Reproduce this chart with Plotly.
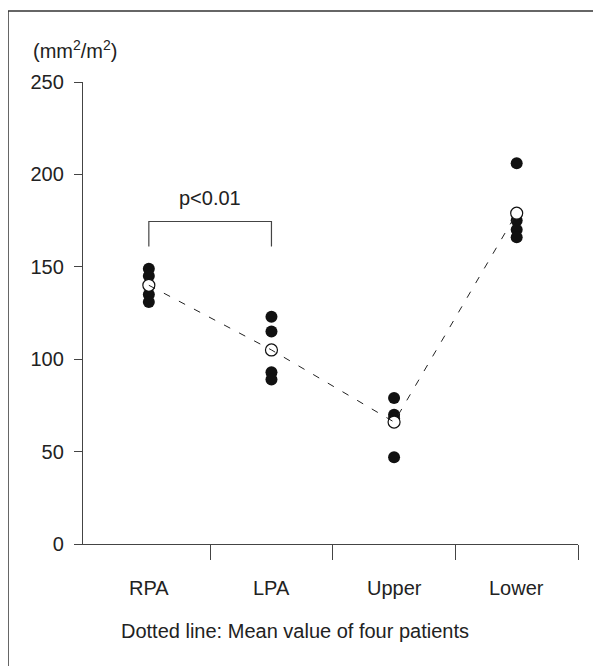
import plotly.graph_objects as go

categories = ["RPA", "LPA", "Upper", "Lower"]
patient_values = {
    "RPA": [149, 145, 135, 131],
    "LPA": [123, 115, 93, 89],
    "Upper": [79, 70, 68, 47],
    "Lower": [206, 175, 170, 166],
}
mean_values = [140, 105, 66, 179]
y_ticks = [0, 50, 100, 150, 200, 250]
caption = "Dotted line: Mean value of four patients"
unit_label = "(mm<sup>2</sup>/m<sup>2</sup>)"
sig_label = "p<0.01"

FONT = "Liberation Sans, Arial, sans-serif"
FS = 20
TXT = "#222222"
LINE = "#444444"

# page offset (body margin) and plot area in figure pixels
OFF = 8
ML, MT, PW, PH = 75, 74, 495, 462
W, H = 601, 666


def pxx(xpage):
    return (xpage - OFF - ML) / PW


def pxy(ypage):
    return (MT + PH - (ypage - OFF)) / PH


xs = list(range(len(categories)))
fig = go.Figure()

px, py = [], []
for i, c in enumerate(categories):
    for v in patient_values[c]:
        px.append(i)
        py.append(v)
fig.add_trace(go.Scatter(x=px, y=py, mode="markers",
                         marker=dict(symbol="circle", size=12, color="#111111",
                                     line=dict(width=0)),
                         showlegend=False, hoverinfo="skip"))
fig.add_trace(go.Scatter(x=xs, y=mean_values, mode="markers",
                         marker=dict(symbol="circle", size=12, color="white",
                                     line=dict(width=1.2, color="#111111")),
                         showlegend=False, hoverinfo="skip"))
fig.add_trace(go.Scatter(x=xs, y=mean_values, mode="lines",
                         line=dict(color="#222222", width=1, dash="7px,10px"),
                         showlegend=False, hoverinfo="skip"))

fig.add_trace(go.Scatter(x=[0, 0, 1, 1], y=[161, 174.5, 174.5, 161], mode="lines",
                         line=dict(color=LINE, width=1.2),
                         showlegend=False, hoverinfo="skip"))

annotations = [
    dict(x=0.5, y=187, xref="x", yref="y", text=sig_label, showarrow=False,
         font=dict(family=FONT, size=FS, color=TXT)),
    dict(x=pxx(75), y=pxy(50), xref="paper", yref="paper", text=unit_label,
         xanchor="center", yanchor="middle",
         showarrow=False, font=dict(family=FONT, size=FS, color=TXT)),
    dict(x=pxx(295), y=pxy(631), xref="paper", yref="paper", text=caption,
         xanchor="center", yanchor="middle",
         showarrow=False, font=dict(family=FONT, size=FS, color=TXT)),
]
for i, c in enumerate(categories):
    annotations.append(dict(x=i, y=pxy(588), xref="x", yref="paper", text=c,
                            xanchor="center", yanchor="middle",
                            showarrow=False, font=dict(family=FONT, size=FS, color=TXT)))

shapes = [
    dict(type="line", xref="paper", yref="paper", x0=pxx(8), x1=pxx(8),
         y0=pxy(700), y1=pxy(11),
         line=dict(color="#333333", width=1.5)),
    dict(type="line", xref="paper", yref="paper", x0=pxx(8), x1=pxx(640),
         y0=pxy(11), y1=pxy(11),
         line=dict(color="#333333", width=1.5)),
]

fig.update_layout(
    width=W, height=H,
    margin=dict(l=ML, r=W - ML - PW, t=MT, b=H - MT - PH),
    paper_bgcolor="white", plot_bgcolor="white",
    font=dict(family=FONT, size=FS, color=TXT),
    annotations=annotations,
    shapes=shapes,
    xaxis=dict(range=[-0.537, 3.5], showgrid=False, zeroline=False,
               showline=True, linecolor=LINE, linewidth=1.3,
               tickmode="array", tickvals=[0.5, 1.5, 2.5, 3.5],
               ticktext=["", "", "", ""], ticks="outside", ticklen=15,
               tickcolor=LINE, tickwidth=1.3, fixedrange=True),
    yaxis=dict(range=[0, 250], showgrid=False, zeroline=False,
               showline=True, linecolor=LINE, linewidth=1.3,
               tickmode="array", tickvals=y_ticks,
               ticks="outside", ticklen=8, tickcolor=LINE, tickwidth=1.3,
               ticklabelstandoff=6,
               tickfont=dict(family=FONT, size=FS, color=TXT)),
)

fig.write_html("out.html")
